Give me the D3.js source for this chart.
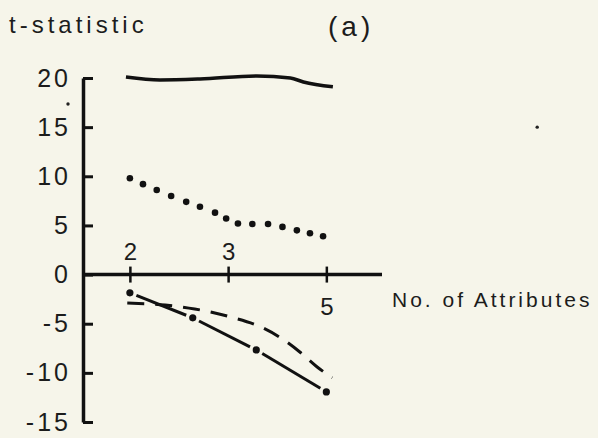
<!DOCTYPE html>
<html>
<head>
<meta charset="utf-8">
<title>t-statistic (a)</title>
<script src="https://d3js.org/d3.v7.min.js"></script>
<style>
  body { margin: 0; background: #f6f5ea; }
  svg { display: block; background: #f6f5ea; }
  text { font-family: "Liberation Sans", Arial, sans-serif; fill: #1c1c1c; }
</style>
</head>
<body>
<svg></svg>
<script>
const w = 598, h = 438;

// values
const yTicks = [20, 15, 10, 5, 0, -5, -10, -15];
const xTickLabels = ["2", "3", "5"];

const solidX = [1.94, 2.46, 3.07, 3.94, 4.45, 4.65, 5.1];
const solidY = [20.1, 19.8, 19.9, 20.2, 20.0, 19.6, 19.1];

const dottedX = [2.0, 2.2, 2.41, 2.63, 2.86, 3.07, 3.3, 3.47, 3.65, 3.87, 4.11, 4.33, 4.55, 4.75, 4.95];
const dottedY = [9.8, 9.2, 8.6, 8.0, 7.4, 6.9, 6.3, 5.7, 5.2, 5.15, 5.15, 4.85, 4.5, 4.2, 3.9];

const dashedX = [1.96, 2.54, 2.99, 3.53, 3.99, 4.34, 4.6, 4.86, 5.09];
const dashedY = [-2.9, -3.1, -3.5, -4.3, -5.3, -6.6, -7.9, -9.4, -10.5];

const dashDotX = [2, 2.96, 3.93, 5.0];
const dashDotY = [-1.86, -4.4, -7.67, -11.94];

// stray specks on the scan
const specks = [[1.055, 17.35], [8.22, 15.0]];

const svg = d3.select("svg")
  .attr("width", w)
  .attr("height", h);

const x = d3.scaleLinear().domain([1.284, 5.85]).range([83, 382]);
const y = d3.scaleLinear().domain([-15, 20]).range([422, 78]);

const line = d3.line()
  .x(d => x(d[0]))
  .y(d => y(d[1]))
  .curve(d3.curveMonotoneX);

// y axis, ticks pointing inward
const yAxis = svg.append("g")
  .attr("transform", "translate(" + x(1.284) + ",0)")
  .call(d3.axisLeft(y)
    .tickValues(yTicks)
    .tickSizeInner(-10)
    .tickSizeOuter(0)
    .tickPadding(12)
    .tickFormat(d => String(d)));

yAxis.select(".domain").attr("stroke", "#111").attr("stroke-width", 3.5);
yAxis.selectAll(".tick line").attr("stroke", "#111").attr("stroke-width", 3);
yAxis.selectAll(".tick text")
  .style("font-size", "25px")
  .style("letter-spacing", "3px")
  .attr("fill", "#222");

// x axis along zero
svg.append("line")
  .attr("x1", x(1.284))
  .attr("x2", x(5.85))
  .attr("y1", y(0))
  .attr("y2", y(0))
  .attr("stroke", "#111")
  .attr("stroke-width", 3.5);

const xTick = d3.scalePoint().domain(xTickLabels).range([x(2), x(5)]);

const xAxis = svg.append("g")
  .attr("transform", "translate(0," + y(0) + ")")
  .call(d3.axisBottom(xTick).tickSizeInner(8).tickSizeOuter(0));

xAxis.select(".domain").remove();
xAxis.selectAll(".tick line")
  .attr("y1", -8)
  .attr("stroke", "#111")
  .attr("stroke-width", 2.5);
xAxis.selectAll(".tick text")
  .attr("dy", null)
  .attr("y", d => d === "5" ? 40 : -15)
  .style("font-size", "24px")
  .attr("fill", "#222");

// series
svg.append("path")
  .attr("d", line(d3.zip(solidX, solidY)))
  .attr("fill", "none")
  .attr("stroke", "#111")
  .attr("stroke-width", 3.5);

svg.selectAll(".dotted")
  .data(d3.zip(dottedX, dottedY))
  .enter()
  .append("circle")
  .attr("class", "dotted")
  .attr("cx", d => x(d[0]))
  .attr("cy", d => y(d[1]))
  .attr("r", 3.3)
  .attr("fill", "#111");

svg.append("path")
  .attr("d", line(d3.zip(dashedX, dashedY)))
  .attr("fill", "none")
  .attr("stroke", "#111")
  .attr("stroke-width", 3)
  .attr("stroke-dasharray", "17 11");

const dd = d3.zip(dashDotX, dashDotY);
const gap = 7;
svg.selectAll(".dd-seg")
  .data(d3.pairs(dd))
  .enter()
  .append("line")
  .attr("class", "dd-seg")
  .each(function(p) {
    const x1 = x(p[0][0]), y1 = y(p[0][1]), x2 = x(p[1][0]), y2 = y(p[1][1]);
    const len = Math.hypot(x2 - x1, y2 - y1);
    const ux = (x2 - x1) / len, uy = (y2 - y1) / len;
    d3.select(this)
      .attr("x1", x1 + ux * gap)
      .attr("y1", y1 + uy * gap)
      .attr("x2", x2 - ux * gap)
      .attr("y2", y2 - uy * gap);
  })
  .attr("stroke", "#111")
  .attr("stroke-width", 3);

svg.selectAll(".dd-dot")
  .data(dd)
  .enter()
  .append("circle")
  .attr("class", "dd-dot")
  .attr("cx", d => x(d[0]))
  .attr("cy", d => y(d[1]))
  .attr("r", 3.6)
  .attr("fill", "#111");

svg.selectAll(".speck")
  .data(specks)
  .enter()
  .append("circle")
  .attr("class", "speck")
  .attr("cx", d => x(d[0]))
  .attr("cy", d => y(d[1]))
  .attr("r", 1.7)
  .attr("fill", "#222");

// labels
svg.append("text")
  .attr("x", 9)
  .attr("y", 33)
  .text("t-statistic")
  .style("font-size", "24px")
  .style("letter-spacing", "4px")
  .attr("fill", "#444");

svg.append("text")
  .attr("x", 328)
  .attr("y", 36)
  .text("(a)")
  .style("font-size", "28px")
  .style("letter-spacing", "4px")
  .attr("fill", "#111");

svg.append("text")
  .attr("x", 392)
  .attr("y", 307)
  .text("No. of Attributes")
  .style("font-size", "21px")
  .style("letter-spacing", "3px")
  .attr("fill", "#333");
</script>
</body>
</html>
